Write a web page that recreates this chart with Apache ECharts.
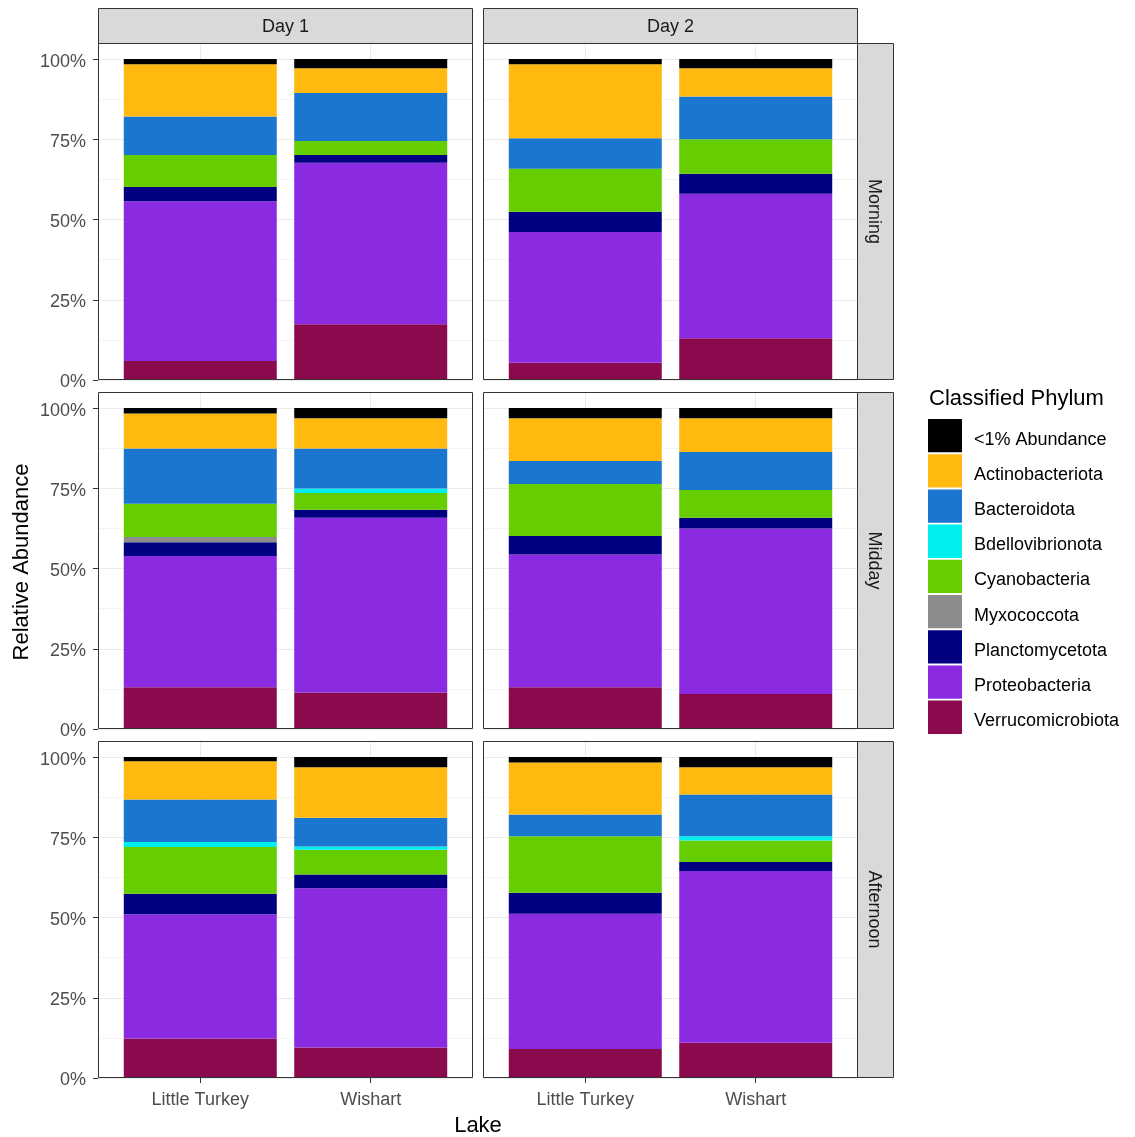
<!DOCTYPE html>
<html>
<head>
<meta charset="utf-8">
<script src="https://cdn.jsdelivr.net/npm/echarts@6/dist/echarts.min.js"></script>
<style>
  html, body { margin: 0; padding: 0; background: #ffffff; }
  #chart { width: 1135px; height: 1137px; }
</style>
</head>
<body>
<div id="chart"></div>
<script>
// Facets: rows are times of day, columns are sampling days; two lakes per panel
const lakes = ['Little Turkey', 'Wishart'];
const days = ['Day 1', 'Day 2'];
const times = ['Morning', 'Midday', 'Afternoon'];
const yTicks = [0, 25, 50, 75, 100];

// Legend order (top of stack first)
const phyla = ['<1% Abundance', 'Actinobacteriota', 'Bacteroidota', 'Bdellovibrionota',
  'Cyanobacteria', 'Myxococcota', 'Planctomycetota', 'Proteobacteria', 'Verrucomicrobiota'];

// Relative abundance (%) per sample, ordered time -> day -> lake
// [M D1 LT, M D1 W, M D2 LT, M D2 W, Mid D1 LT, Mid D1 W, Mid D2 LT, Mid D2 W, A D1 LT, A D1 W, A D2 LT, A D2 W]
const lowAbundance      = [1.6, 2.9, 1.6, 2.9,  1.7, 3.2, 3.2, 3.2,  1.3, 3.2, 1.7, 3.2];
const actinobacteriota  = [16.3, 7.7, 23.1, 8.8, 10.9, 9.4, 13.3, 10.5, 11.9, 15.7, 16.2, 8.5];
const bacteroidota      = [12.0, 14.9, 9.5, 13.3, 17.2, 12.5, 7.2, 11.8, 13.3, 9.0, 6.8, 13.0];
const bdellovibrionota  = [0, 0, 0, 0,  0, 1.4, 0, 0,  1.5, 1.0, 0, 1.3];
const cyanobacteria     = [10.0, 4.4, 13.4, 10.7, 10.4, 5.2, 16.2, 8.7, 14.6, 7.7, 17.6, 6.7];
const myxococcota       = [0, 0, 0, 0,  1.6, 0, 0, 0,  0, 0, 0, 0];
const planctomycetota   = [4.4, 2.4, 6.3, 6.3,  4.3, 2.5, 5.7, 3.3,  6.4, 4.3, 6.5, 2.8];
const proteobacteria    = [49.8, 50.3, 40.7, 45.0, 40.9, 54.4, 41.4, 51.6, 38.7, 49.6, 42.2, 53.5];
const verrucomicrobiota = [5.9, 17.4, 5.4, 13.0, 13.0, 11.4, 13.0, 10.9, 12.3, 9.5, 9.0, 11.0];

const phylumValues = [lowAbundance, actinobacteriota, bacteroidota, bdellovibrionota,
  cyanobacteria, myxococcota, planctomycetota, proteobacteria, verrucomicrobiota];

const phylumColors = ['#000000', '#FFB90F', '#1A76CE', '#00EEEE', '#66CD00',
  '#8C8C8C', '#000080', '#8A2BE2', '#8B0A4E'];

// Layout
const FONT = '"Liberation Sans", Arial, Helvetica, sans-serif';
const colLeft = [98, 483];
const panelW = 375;
const rowTop = [43, 392, 741];
const panelH = 337;
const stripTop = 8, stripH = 35;
const stripRightX = 858, stripRightW = 36;

const grids = [], xAxes = [], yAxes = [], series = [], graphics = [];

times.forEach((t, r) => {
  days.forEach((d, c) => {
    const i = r * days.length + c;
    grids.push({
      left: colLeft[c], top: rowTop[r], width: panelW, height: panelH,
      show: true, backgroundColor: '#ffffff', borderWidth: 0, containLabel: false
    });
    xAxes.push({
      gridIndex: i, type: 'value', min: 0.4, max: 2.6,
      axisLine: { show: false },
      axisTick: { show: r === times.length - 1, customValues: [1, 2], length: 5,
        lineStyle: { color: '#333333', width: 1 } },
      axisLabel: { show: r === times.length - 1, customValues: [1, 2], margin: 13,
        formatter: v => lakes[Math.round(v) - 1] || '',
        color: '#4d4d4d', fontSize: 18, fontFamily: FONT },
      splitLine: { show: true, lineStyle: { color: '#ebebeb', width: 1 } }
    });
    // background grid: major + minor lines
    yAxes.push({
      gridIndex: i, type: 'value', position: 'left', min: 0, max: 105, interval: 12.5,
      axisLine: { show: false }, axisTick: { show: false }, axisLabel: { show: false },
      splitLine: { show: true, lineStyle: { color: ['#ebebeb', '#f4f4f4'], width: 1 } }
    });
    // tick marks and percentage labels
    yAxes.push({
      gridIndex: i, type: 'value', position: 'left', min: 0, max: 105, interval: 25,
      axisLine: { show: false },
      axisTick: { show: c === 0, customValues: yTicks, length: 5,
        lineStyle: { color: '#333333', width: 1 } },
      axisLabel: { show: c === 0, customValues: yTicks, margin: 12,
        verticalAlign: 'top', lineHeight: 5,
        formatter: v => (yTicks.indexOf(v) >= 0 ? v + '%' : ''),
        color: '#4d4d4d', fontSize: 18, fontFamily: FONT },
      splitLine: { show: false }
    });

    // stacked bars, bottom of stack first; value is the first column so it is the stacked one
    for (let p = phyla.length - 1; p >= 0; p--) {
      series.push({
        type: 'bar', name: phyla[p], xAxisIndex: i, yAxisIndex: 2 * i + 1,
        stack: 'panel' + i, barWidth: 153,
        encode: { x: 1, y: 0 },
        itemStyle: { color: phylumColors[p] },
        emphasis: { disabled: true }, silent: true,
        data: lakes.map((l, j) => [phylumValues[p][i * lakes.length + j], j + 1])
      });
    }

    // panel border on top of bars
    graphics.push({
      type: 'rect', z: 100, silent: true,
      shape: { x: colLeft[c] + 0.5, y: rowTop[r] + 0.5, width: panelW - 1, height: panelH - 1 },
      style: { fill: 'none', stroke: '#333333', lineWidth: 1 }
    });
  });
});

// column strips
days.forEach((d, c) => {
  graphics.push({
    type: 'rect', z: 100, silent: true,
    shape: { x: colLeft[c] + 0.5, y: stripTop + 0.5, width: panelW - 1, height: stripH },
    style: { fill: '#d9d9d9', stroke: '#333333', lineWidth: 1 }
  });
  graphics.push({
    type: 'text', z: 101, silent: true,
    x: colLeft[c] + panelW / 2, y: stripTop + stripH / 2 + 2,
    style: { text: d, align: 'center', verticalAlign: 'middle',
      fontSize: 18, fontFamily: FONT, fill: '#1a1a1a' }
  });
});

// row strips
times.forEach((t, r) => {
  graphics.push({
    type: 'rect', z: 100, silent: true,
    shape: { x: stripRightX - 0.5, y: rowTop[r] + 0.5, width: stripRightW, height: panelH - 1 },
    style: { fill: '#d9d9d9', stroke: '#333333', lineWidth: 1 }
  });
  graphics.push({
    type: 'text', z: 101, silent: true,
    x: stripRightX + stripRightW / 2 - 2, y: rowTop[r] + panelH / 2,
    rotation: -Math.PI / 2,
    style: { text: t, align: 'center', verticalAlign: 'middle',
      fontSize: 18, fontFamily: FONT, fill: '#1a1a1a' }
  });
});

// axis titles
graphics.push({
  type: 'text', silent: true, x: 22, y: 562, rotation: Math.PI / 2,
  style: { text: 'Relative Abundance', align: 'center', verticalAlign: 'middle',
    fontSize: 22, fontFamily: FONT, fill: '#000000' }
});
graphics.push({
  type: 'text', silent: true, x: colLeft[0] + (colLeft[1] + panelW - colLeft[0]) / 2, y: 1126,
  style: { text: 'Lake', align: 'center', verticalAlign: 'middle',
    fontSize: 22, fontFamily: FONT, fill: '#000000' }
});
// legend title
graphics.push({
  type: 'text', silent: true, x: 929, y: 399,
  style: { text: 'Classified Phylum', align: 'left', verticalAlign: 'middle',
    fontSize: 22, fontFamily: FONT, fill: '#000000' }
});

const chart = echarts.init(document.getElementById('chart'), null, { renderer: 'canvas' });
chart.setOption({
  animation: false,
  backgroundColor: '#ffffff',
  grid: grids,
  xAxis: xAxes,
  yAxis: yAxes,
  series: series,
  legend: {
    orient: 'vertical', left: 928, top: 419, padding: 0,
    itemWidth: 34, itemHeight: 33.3, itemGap: 1.9, icon: 'rect',
    selectedMode: false, data: phyla,
    formatter: name => '{lab|' + name + '}',
    textStyle: {
      fontSize: 18, fontFamily: FONT, color: '#000000',
      rich: { lab: { fontSize: 18, fontFamily: FONT, color: '#000000', padding: [8, 0, 0, 7] } }
    }
  },
  graphic: graphics
});
</script>
</body>
</html>
